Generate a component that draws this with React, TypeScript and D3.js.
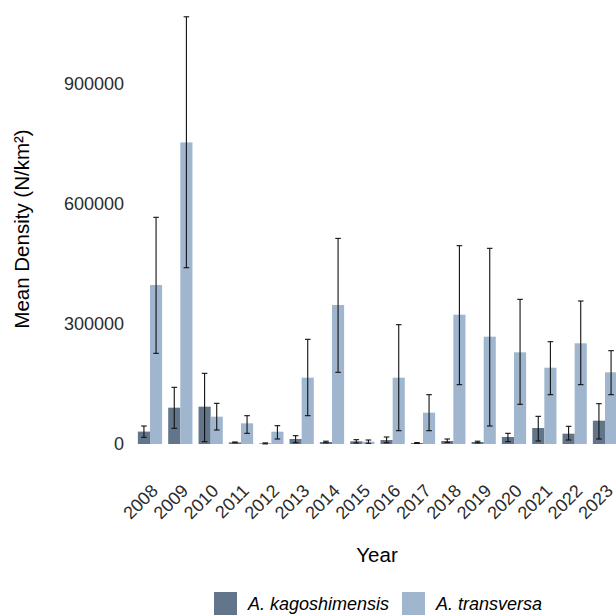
import React from "react";
import * as d3 from "d3";

const years = ["2008","2009","2010","2011","2012","2013","2014","2015","2016","2017","2018","2019","2020","2021","2022","2023"];
const kagoMean = [31000, 90800, 93300, 4000, 1500, 12500, 5000, 6700, 10000, 2500, 7500, 5000, 17500, 40000, 25800, 58300];
const kagoLow = [16700, 39200, 5800, 3000, 300, 3300, 3000, 2700, 3300, 1500, 4200, 3000, 5800, 7500, 10000, 12500];
const kagoHigh = [45000, 141700, 176700, 5000, 2700, 20800, 7000, 10800, 17500, 3500, 12500, 7000, 26700, 69200, 44200, 100800];
const transMean = [397500, 754000, 68300, 51700, 30800, 165800, 347500, 5800, 165800, 78300, 323300, 268300, 229200, 190800, 251700, 179200];
const transLow = [226700, 440800, 35000, 26700, 12500, 70800, 179200, 1700, 33300, 33300, 148300, 45000, 99200, 123300, 148300, 123300];
const transHigh = [566700, 1068000, 101700, 70800, 45800, 261700, 514000, 10000, 298300, 123300, 495800, 489200, 361700, 255800, 357500, 233300];
const yTicks = [0, 300000, 600000, 900000];
const seriesNames = ["A. kagoshimensis", "A. transversa"];
const seriesColors = ["#63758a", "#a0b6cf"];

export default function App() {
  const W = 616, H = 615;
  const x = d3.scalePoint<string>().domain(years).range([150, 605]);
  const step = x.step();
  const bw = step * 0.4;
  const y = d3.scaleLinear().domain([0, 900000]).range([444, 84]);
  const font = "'Liberation Sans', Arial, sans-serif";
  const series = [
    { mean: kagoMean, low: kagoLow, high: kagoHigh, off: -bw },
    { mean: transMean, low: transLow, high: transHigh, off: 0 },
  ];
  const cap = 2.8;
  return (
    <svg width={W} height={H} style={{ position: "absolute", left: 0, top: 0, background: "#fff" }} fontFamily={font}>
      {series.map((s, si) => (
        <g key={"bars" + si}>
          {years.map((yr, i) => (
            <rect key={yr} x={(x(yr) as number) + s.off} y={y(s.mean[i])} width={bw} height={y(0) - y(s.mean[i])}
              fill={seriesColors[si]} />
          ))}
        </g>
      ))}
      {series.map((s, si) => (
        <g key={"err" + si} stroke="#111" strokeWidth={1.1}>
          {years.map((yr, i) => {
            const cx = (x(yr) as number) + s.off + bw / 2;
            return (
              <g key={yr}>
                <line x1={cx} x2={cx} y1={y(s.low[i])} y2={y(s.high[i])} />
                <line x1={cx - cap} x2={cx + cap} y1={y(s.low[i])} y2={y(s.low[i])} />
                <line x1={cx - cap} x2={cx + cap} y1={y(s.high[i])} y2={y(s.high[i])} />
              </g>
            );
          })}
        </g>
      ))}
      {yTicks.map((t) => (
        <text key={t} x={124} y={y(t)} dy="0.35em" textAnchor="end" fontSize={18} fill="#2b2b2b">{t}</text>
      ))}
      {years.map((yr) => (
        <text key={yr} transform={`translate(${(x(yr) as number) + 9},${492}) rotate(-45)`} textAnchor="end" fontSize={18} fill="#2b2b2b">{yr}</text>
      ))}
      <text x={377} y={562} textAnchor="middle" fontSize={20.5} fill="#000">Year</text>
      <text transform="translate(29,229) rotate(-90)" textAnchor="middle" fontSize={20.5} fill="#000">Mean Density (N/km²)</text>
      {seriesNames.map((n, i) => {
        const kx = i === 0 ? 214 : 402;
        return (
          <g key={n}>
            <rect x={kx} y={592} width={23} height={23} fill={seriesColors[i]} />
            <text x={kx + 34} y={610} fontSize={18} fontStyle="italic" fill="#000">{n}</text>
          </g>
        );
      })}
    </svg>
  );
}
